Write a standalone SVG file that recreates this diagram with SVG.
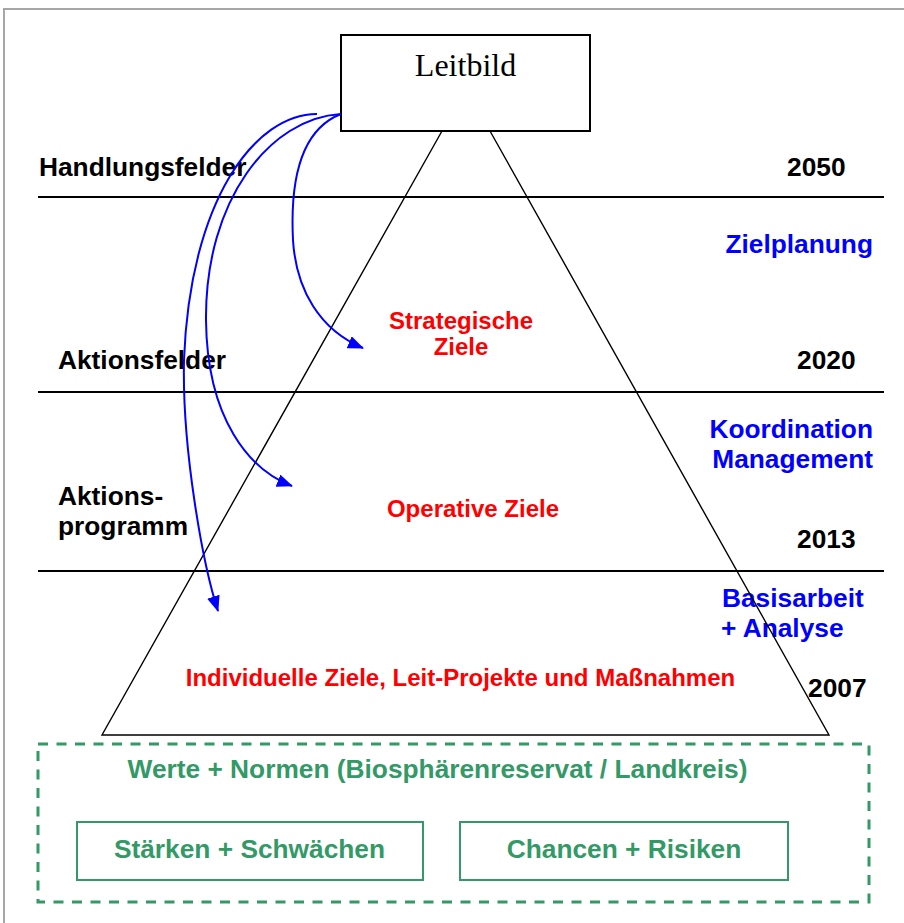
<svg xmlns="http://www.w3.org/2000/svg" width="904" height="923" viewBox="0 0 904 923">
<defs>
<marker id="ah" markerUnits="userSpaceOnUse" markerWidth="16" markerHeight="13" viewBox="0 0 16 13" refX="15" refY="6.5" orient="auto">
<path d="M0,0 L16,6.5 L0,13 z" fill="#0000ff"/>
</marker>
<style>
.lbl{font-family:"Liberation Sans",Arial,sans-serif;font-weight:bold;font-size:26.3px}
.blk{fill:#000}
.blu{fill:#0000ff}
.red{fill:#ff0000;font-size:24px}
.grn{fill:#339966}
.hl{stroke:#000;stroke-width:2;fill:none}
.tri{stroke:#000;stroke-width:1.4;fill:none}
.gbox{fill:none;stroke:#339966;stroke-width:2}
.conn{fill:none;stroke:#0000ff;stroke-width:2;marker-end:url(#ah)}
</style>
</defs>
<rect x="0" y="0" width="904" height="923" fill="#fff"/>
<rect x="4" y="9" width="910" height="930" fill="none" stroke="#a6a6a6" stroke-width="2"/>

<g id="labels-left" class="lbl blk">
<text x="39" y="176">Handlungsfelder</text>
<text x="58" y="369">Aktionsfelder</text>
<text x="58" y="505">Aktions-</text>
<text x="58" y="535">programm</text>
</g>
<g id="labels-years" class="lbl blk">
<text x="787" y="176">2050</text>
<text x="797" y="369">2020</text>
<text x="797" y="548">2013</text>
<text x="808" y="697">2007</text>
</g>
<g id="labels-phases" class="lbl blu">
<text x="873" y="253" text-anchor="end">Zielplanung</text>
<text x="873" y="438" text-anchor="end">Koordination</text>
<text x="873" y="468" text-anchor="end">Management</text>
<text x="722" y="607">Basisarbeit</text>
<text x="721" y="637">+ Analyse</text>
</g>

<g id="section-lines">
<line class="hl" x1="38" y1="197" x2="884" y2="197"/>
<line class="hl" x1="38" y1="392" x2="884" y2="392"/>
<line class="hl" x1="38" y1="571" x2="884" y2="571"/>
</g>

<g id="pyramid">
<polyline class="tri" points="442,131 102,735 829,735 490,131"/>
</g>

<g id="leitbild">
<rect x="341" y="35" width="249" height="96" fill="#fff" stroke="#000" stroke-width="2"/>
<text x="465.5" y="76" text-anchor="middle" font-family="'Liberation Serif','Times New Roman',serif" font-size="32">Leitbild</text>
</g>

<g id="strategische-ziele" class="lbl red">
<text x="461" y="329" text-anchor="middle">Strategische</text>
<text x="461" y="355" text-anchor="middle">Ziele</text>
</g>
<g id="operative-ziele" class="lbl red">
<text x="473" y="517" text-anchor="middle">Operative Ziele</text>
</g>
<g id="individuelle-ziele" class="lbl red">
<text x="460.5" y="686" text-anchor="middle">Individuelle Ziele, Leit-Projekte und Maßnahmen</text>
</g>

<g id="werte-normen">
<rect x="38" y="744" width="831" height="158" fill="none" stroke="#339966" stroke-width="3" stroke-dasharray="10 8.5"/>
<text class="lbl grn" x="437.5" y="778" text-anchor="middle">Werte + Normen (Biosphärenreservat / Landkreis)</text>
</g>
<g id="staerken-schwaechen">
<rect class="gbox" x="77" y="822" width="346" height="58"/>
<text class="lbl grn" x="249.5" y="858" text-anchor="middle">Stärken + Schwächen</text>
</g>
<g id="chancen-risiken">
<rect class="gbox" x="460" y="822" width="328" height="58"/>
<text class="lbl grn" x="624" y="858" text-anchor="middle">Chancen + Risiken</text>
</g>

<g id="connectors">
<path class="conn" d="M317,114 C255,114 190,200 184,360 C182,450 203,565 218,611"/>
<path class="conn" d="M341,114 C270,118 205,200 206,320 C207,420 250,470 292,486"/>
<path class="conn" d="M341,114 C300,130 290,180 293,240 C296,290 320,330 363,348"/>
</g>
</svg>
